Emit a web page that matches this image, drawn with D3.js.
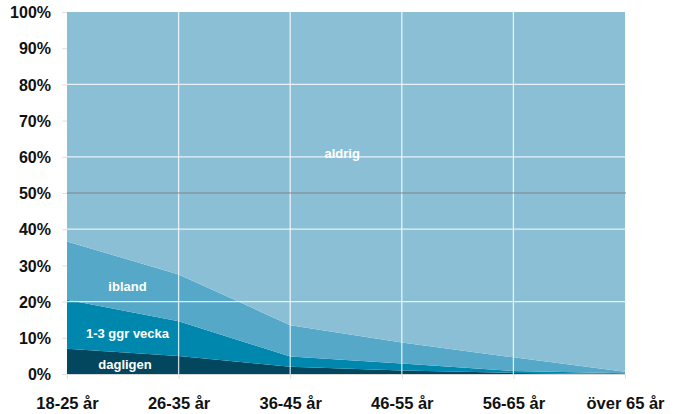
<!DOCTYPE html>
<html><head><meta charset="utf-8">
<script src="https://cdn.jsdelivr.net/npm/d3@7"></script>
<style>
html,body{margin:0;padding:0;background:#fff;}
svg{display:block;font-family:"Liberation Sans",Arial,Helvetica,sans-serif;}
</style></head>
<body><svg id="c" width="678" height="414"></svg>
<script>
const categories = ["18-25 år","26-35 år","36-45 år","46-55 år","56-65 år","över 65 år"];
const seriesNames = ["dagligen","1-3 ggr vecka","ibland","aldrig"];
const dagligen = [7, 5, 2, 1, 0.3, 0];
const veckaVals = [13.5, 9.6, 2.8, 1.9, 0.5, 0.2];
const ibland = [16.1, 12.9, 8.7, 5.8, 3.8, 0.4];
const aldrig = categories.map((c,i)=>100 - dagligen[i] - veckaVals[i] - ibland[i]);
const yTicks = [0,10,20,30,40,50,60,70,80,90,100];
const colors = ["#03475e","#0087ad","#55a8c8","#8bbfd6"];

const svg = d3.select("#c");
const m = {l:67, r:53, t:12, b:40};
const W = 678, H = 414;
const x = d3.scalePoint().domain(categories).range([m.l, W - m.r]);
const y = d3.scaleLinear().domain([0,100]).range([H - m.b, m.t]);

const rows = categories.map((c,i)=>({cat:c, dagligen:dagligen[i], "1-3 ggr vecka":veckaVals[i], ibland:ibland[i], aldrig:aldrig[i]}));
const stacked = d3.stack().keys(seriesNames)(rows);
const area = d3.area().x(d=>x(d.data.cat)).y0(d=>y(d[0])).y1(d=>y(d[1]));

svg.append("g").selectAll("path").data(stacked).join("path")
  .attr("d", area).attr("fill",(d,i)=>colors[i]);

// grid
const g = svg.append("g");
g.selectAll("line.h").data([20,40,60,80]).join("line")
  .attr("x1", m.l).attr("x2", W-m.r).attr("y1", d=>y(d)).attr("y2", d=>y(d))
  .attr("stroke","#ffffff").attr("stroke-opacity",0.8).attr("stroke-width",1.3);
g.selectAll("line.v").data(categories.slice(1,-1)).join("line")
  .attr("x1", d=>x(d)).attr("x2", d=>x(d)).attr("y1", y(100)).attr("y2", y(0))
  .attr("stroke","#ffffff").attr("stroke-opacity",0.8).attr("stroke-width",1.3);
g.append("line").attr("x1", m.l).attr("x2", W-m.r+1).attr("y1", y(50)).attr("y2", y(50))
  .attr("stroke","#7c8589").attr("stroke-width",1);

// axes
const yAxis = svg.append("g").attr("transform",`translate(${m.l},0)`)
  .call(d3.axisLeft(y).tickValues(yTicks).tickFormat(d=>d+"%").tickSize(5).tickPadding(11));
yAxis.select(".domain").remove();
yAxis.selectAll(".tick line").attr("stroke","#e0e0e0");
yAxis.selectAll("text").attr("fill","#111").attr("font-size",16).attr("font-weight","bold").attr("dy","0.35em");

const xAxis = svg.append("g").attr("transform",`translate(0,${y(0)})`)
  .call(d3.axisBottom(x).tickSize(5).tickPadding(18));
xAxis.select(".domain").attr("stroke","#d8d8d8").attr("d",`M${m.l},0.5H${W-m.r}`);
xAxis.selectAll(".tick line").attr("stroke","#e0e0e0");
xAxis.selectAll("text").attr("fill","#111").attr("font-size",16.5).attr("font-weight","bold");

// labels
const labels = [
  {t:"aldrig", cat:categories[2], v:60.8, dx:52},
  {t:"ibland", cat:categories[0], v:24.2, dx:60.5},
  {t:"1-3 ggr vecka", cat:categories[0], v:11.3, dx:60.5},
  {t:"dagligen", cat:categories[0], v:2.6, dx:58}
];
svg.append("g").selectAll("text").data(labels).join("text")
  .attr("x", d=>x(d.cat)+d.dx).attr("y", d=>y(d.v)).attr("dy","0.35em")
  .attr("text-anchor","middle").attr("fill","#fff").attr("font-size",13).attr("font-weight","bold")
  .text(d=>d.t);
</script></body></html>
